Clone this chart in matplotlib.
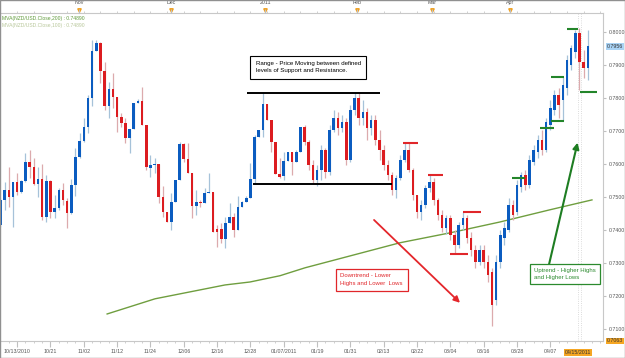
import numpy as np
import matplotlib.pyplot as plt
import matplotlib.transforms as mtrans
from matplotlib.patches import Rectangle

# NZD/USD daily candles
opens = [0.7415, 0.7491, 0.7521, 0.7500, 0.7546, 0.7515, 0.7549, 0.7606, 0.7591, 0.7539,
         0.7555, 0.7439, 0.7549, 0.7455, 0.7467, 0.7521, 0.7488, 0.7452, 0.7536, 0.7621,
         0.7670, 0.7712, 0.7800, 0.7942, 0.7967, 0.7882, 0.7776, 0.7827, 0.7803, 0.7742,
         0.7724, 0.7679, 0.7706, 0.7785, 0.7791, 0.7718, 0.7588, 0.7597, 0.7600, 0.7500,
         0.7455, 0.7424, 0.7485, 0.7552, 0.7661, 0.7615, 0.7573, 0.7473, 0.7485, 0.7482,
         0.7512, 0.7515, 0.7403, 0.7403, 0.7373, 0.7421, 0.7439, 0.7400, 0.7470, 0.7485,
         0.7497, 0.7555, 0.7682, 0.7703, 0.7782, 0.7733, 0.7667, 0.7570, 0.7564, 0.7609,
         0.7636, 0.7606, 0.7636, 0.7712, 0.7667, 0.7597, 0.7552, 0.7582, 0.7642, 0.7576,
         0.7703, 0.7739, 0.7709, 0.7727, 0.7612, 0.7764, 0.7800, 0.7739, 0.7758, 0.7709,
         0.7733, 0.7673, 0.7642, 0.7597, 0.7567, 0.7521, 0.7558, 0.7612, 0.7642, 0.7582,
         0.7506, 0.7455, 0.7476, 0.7527, 0.7546, 0.7491, 0.7446, 0.7406, 0.7436, 0.7385,
         0.7355, 0.7415, 0.7436, 0.7376, 0.7339, 0.7303, 0.7339, 0.7303, 0.7273, 0.7188,
         0.7303, 0.7376, 0.7400, 0.7476, 0.7455, 0.7530, 0.7567, 0.7536, 0.7606, 0.7636,
         0.7673, 0.7642, 0.7718, 0.7764, 0.7809, 0.7794, 0.7830, 0.7900, 0.7939, 0.7997,
         0.7909, 0.7891]
highs = [0.7497, 0.7546, 0.7591, 0.7546, 0.7573, 0.7552, 0.7633, 0.7642, 0.7618, 0.7591,
         0.7600, 0.7567, 0.7552, 0.7506, 0.7527, 0.7542, 0.7497, 0.7555, 0.7649, 0.7694,
         0.7739, 0.7809, 0.7976, 0.7976, 0.7970, 0.7909, 0.7849, 0.7876, 0.7803, 0.7755,
         0.7739, 0.7706, 0.7785, 0.7797, 0.7833, 0.7718, 0.7627, 0.7618, 0.7600, 0.7533,
         0.7455, 0.7512, 0.7552, 0.7667, 0.7664, 0.7664, 0.7573, 0.7521, 0.7491, 0.7527,
         0.7573, 0.7515, 0.7415, 0.7421, 0.7439, 0.7482, 0.7452, 0.7503, 0.7488, 0.7503,
         0.7603, 0.7688, 0.7703, 0.7815, 0.7782, 0.7733, 0.7667, 0.7618, 0.7636, 0.7636,
         0.7636, 0.7642, 0.7712, 0.7718, 0.7673, 0.7612, 0.7597, 0.7658, 0.7649, 0.7718,
         0.7764, 0.7758, 0.7749, 0.7739, 0.7779, 0.7815, 0.7815, 0.7794, 0.7770, 0.7749,
         0.7749, 0.7703, 0.7658, 0.7612, 0.7576, 0.7567, 0.7627, 0.7664, 0.7664, 0.7588,
         0.7506, 0.7491, 0.7536, 0.7567, 0.7558, 0.7497, 0.7461, 0.7446, 0.7446, 0.7400,
         0.7424, 0.7455, 0.7446, 0.7394, 0.7355, 0.7355, 0.7355, 0.7324, 0.7285, 0.7324,
         0.7400, 0.7424, 0.7497, 0.7491, 0.7552, 0.7576, 0.7582, 0.7627, 0.7658, 0.7688,
         0.7703, 0.7739, 0.7794, 0.7824, 0.7830, 0.7864, 0.7930, 0.7961, 0.8006, 0.8012,
         0.7946, 0.8006]
lows = [0.7409, 0.7461, 0.7470, 0.7409, 0.7506, 0.7512, 0.7546, 0.7558, 0.7536, 0.7500,
        0.7430, 0.7424, 0.7436, 0.7436, 0.7461, 0.7476, 0.7406, 0.7449, 0.7503, 0.7618,
        0.7667, 0.7694, 0.7776, 0.7942, 0.7846, 0.7764, 0.7739, 0.7770, 0.7697, 0.7712,
        0.7664, 0.7633, 0.7706, 0.7785, 0.7718, 0.7582, 0.7561, 0.7573, 0.7482, 0.7439,
        0.7424, 0.7400, 0.7485, 0.7552, 0.7606, 0.7573, 0.7436, 0.7446, 0.7470, 0.7482,
        0.7512, 0.7394, 0.7349, 0.7361, 0.7346, 0.7421, 0.7379, 0.7400, 0.7470, 0.7485,
        0.7497, 0.7542, 0.7682, 0.7682, 0.7733, 0.7636, 0.7570, 0.7558, 0.7552, 0.7609,
        0.7567, 0.7606, 0.7636, 0.7658, 0.7582, 0.7542, 0.7533, 0.7552, 0.7558, 0.7567,
        0.7697, 0.7688, 0.7697, 0.7597, 0.7606, 0.7749, 0.7718, 0.7718, 0.7673, 0.7688,
        0.7658, 0.7612, 0.7582, 0.7552, 0.7506, 0.7497, 0.7552, 0.7606, 0.7576, 0.7491,
        0.7436, 0.7430, 0.7467, 0.7515, 0.7476, 0.7430, 0.7394, 0.7388, 0.7370, 0.7327,
        0.7346, 0.7400, 0.7361, 0.7321, 0.7285, 0.7294, 0.7285, 0.7243, 0.7109, 0.7173,
        0.7285, 0.7355, 0.7394, 0.7430, 0.7446, 0.7515, 0.7521, 0.7527, 0.7597, 0.7618,
        0.7627, 0.7636, 0.7703, 0.7749, 0.7739, 0.7730, 0.7809, 0.7885, 0.7921, 0.7824,
        0.7861, 0.7855]
closes = [0.7491, 0.7521, 0.7500, 0.7546, 0.7515, 0.7549, 0.7606, 0.7591, 0.7539, 0.7555,
          0.7439, 0.7549, 0.7455, 0.7467, 0.7521, 0.7491, 0.7452, 0.7536, 0.7621, 0.7670,
          0.7712, 0.7800, 0.7942, 0.7967, 0.7882, 0.7776, 0.7827, 0.7803, 0.7742, 0.7724,
          0.7679, 0.7706, 0.7785, 0.7791, 0.7718, 0.7591, 0.7597, 0.7600, 0.7500, 0.7455,
          0.7424, 0.7485, 0.7552, 0.7661, 0.7615, 0.7573, 0.7473, 0.7485, 0.7482, 0.7512,
          0.7515, 0.7394, 0.7394, 0.7373, 0.7421, 0.7439, 0.7400, 0.7470, 0.7485, 0.7497,
          0.7555, 0.7682, 0.7703, 0.7782, 0.7733, 0.7667, 0.7570, 0.7561, 0.7609, 0.7636,
          0.7606, 0.7636, 0.7712, 0.7667, 0.7597, 0.7552, 0.7582, 0.7642, 0.7576, 0.7703,
          0.7739, 0.7709, 0.7727, 0.7612, 0.7764, 0.7800, 0.7739, 0.7758, 0.7709, 0.7733,
          0.7673, 0.7642, 0.7597, 0.7567, 0.7521, 0.7558, 0.7612, 0.7642, 0.7582, 0.7506,
          0.7455, 0.7476, 0.7527, 0.7546, 0.7491, 0.7446, 0.7406, 0.7436, 0.7385, 0.7355,
          0.7415, 0.7436, 0.7376, 0.7339, 0.7303, 0.7339, 0.7303, 0.7264, 0.7173, 0.7303,
          0.7385, 0.7406, 0.7476, 0.7446, 0.7536, 0.7567, 0.7536, 0.7612, 0.7642, 0.7673,
          0.7642, 0.7727, 0.7770, 0.7809, 0.7779, 0.7839, 0.7915, 0.7952, 0.7997, 0.7909,
          0.7891, 0.7958]

# moving average (sampled along the green line)
ma_idx = [25.6, 31.1, 37.1, 47.9, 53.9, 59.9, 67.1, 73.1, 83.9, 95.9, 107.9, 119.9, 131.9, 142]
ma_vals = [0.7145, 0.7167, 0.7191, 0.7218, 0.7233, 0.7242, 0.7261, 0.7285, 0.7321, 0.7361,
           0.7391, 0.7424, 0.7461, 0.7491]

date_ticks = list(range(4, 133, 8))
date_labels = ['10/13/2010', '10/21', '11/02', '11/12', '11/24', '12/06', '12/16', '12/28',
               '01/07/2011', '01/19', '01/31', '02/13', '02/22', '03/04', '03/16', '03/28', '04/07']
month_pos = [18.85, 40.9, 63.5, 85.6, 103.6, 122.3]
month_labels = ['Nov', 'Dec', '2011', 'Feb', 'Mar', 'Apr']
price_ticks = [0.71, 0.72, 0.73, 0.74, 0.75, 0.76, 0.77, 0.78, 0.79, 0.80]

# lower highs / lower lows and higher highs / higher lows markers
red_dash = [(96.6, 100.2, 0.7664), (102.6, 106.2, 0.7567), (111.0, 115.4, 0.7455), (108.0, 112.2, 0.7327)]
green_dash = [(136.0, 138.7, 0.8009), (139.1, 143.2, 0.7818), (132.2, 135.3, 0.7864),
              (132.2, 135.3, 0.7730), (122.8, 125.9, 0.7558), (129.5, 132.9, 0.7709)]

BLUE = '#0b5cc0'
RED = '#dc1c20'
BLUE_WICK = '#a6c2d9'
RED_WICK = '#dcaaad'

plt.rcParams['font.family'] = ['Liberation Sans', 'DejaVu Sans']

fig = plt.figure(figsize=(6.25, 3.58), dpi=100)
ax = fig.add_axes([0.0, 0.0475, 0.9648, 0.9162])

n = len(opens)
x = np.arange(n)
o = np.array(opens)
c = np.array(closes)
up = c >= o

# wicks then bodies
ax.vlines(x[up], np.array(lows)[up], np.array(highs)[up], color=BLUE_WICK, lw=0.9, zorder=2)
ax.vlines(x[~up], np.array(lows)[~up], np.array(highs)[~up], color=RED_WICK, lw=0.9, zorder=2)
body_h = np.maximum(np.abs(c - o), 0.00035)
ax.bar(x[up], body_h[up], bottom=np.minimum(o, c)[up], width=0.62, color=BLUE, zorder=3)
ax.bar(x[~up], body_h[~up], bottom=np.minimum(o, c)[~up], width=0.62, color=RED, zorder=3)

# moving average
ax.plot(ma_idx, ma_vals, color='#6f9e3f', lw=1.0, zorder=1)

# cursor lines
ax.axvline(138.6, color='#d0d0d0', lw=0.6, ls=':', zorder=0)
ax.axvline(139.4, color='#d0d0d0', lw=0.6, ls=':', zorder=0)

ax.set_xlim(-0.12, 144.65)
ax.set_ylim(0.7063, 0.8058)

# support / resistance
ax.hlines(0.7815, 59.2, 91.1, color='black', lw=1.4, zorder=4)
ax.hlines(0.7539, 60.6, 94.0, color='black', lw=1.4, zorder=4)
ax.text(61.3, 0.7912, 'Range - Price Moving between defined\nlevels of Support and Resistance.',
        fontsize=4.4, va='top', ha='left', linespacing=1.5,
        bbox=dict(boxstyle='square,pad=0.9', fc='white', ec='black', lw=0.8), zorder=5)

for x0, x1, y in red_dash:
    ax.hlines(y, x0, x1, color='#e0262a', lw=1.5, zorder=4)
for x0, x1, y in green_dash:
    ax.hlines(y, x0, x1, color='#23852a', lw=1.5, zorder=4)

ax.annotate('', xy=(110.8, 0.7173), xytext=(89.2, 0.7436),
            arrowprops=dict(arrowstyle='-|>', color='#e4262b', lw=1.3, mutation_scale=9))
ax.annotate('', xy=(138.7, 0.7673), xytext=(131.5, 0.7285),
            arrowprops=dict(arrowstyle='-|>', color='#1e7d22', lw=1.5, mutation_scale=9))

ax.text(81.6, 0.7268, 'Downtrend - Lower\nHighs and Lower  Lows', color='#e0262a',
        fontsize=4.3, va='top', ha='left', linespacing=1.6,
        bbox=dict(boxstyle='square,pad=0.8', fc='white', ec='#e0262a', lw=0.9), zorder=5)
ax.text(128.2, 0.7285, 'Uptrend - Higher Highs\nand Higher Lows', color='#2b8a2e',
        fontsize=4.3, va='top', ha='left', linespacing=1.6,
        bbox=dict(boxstyle='square,pad=0.7', fc='white', ec='#2b8a2e', lw=0.9), zorder=5)

# legend text
ax.text(0.003, 0.99, 'MVA(NZD/USD.Close,200) : 0.74890', transform=ax.transAxes,
        fontsize=3.6, color='#5f9a3a', va='top')
ax.text(0.003, 0.97, 'MVA(NZD/USD.Close,100) : 0.74890', transform=ax.transAxes,
        fontsize=3.6, color='#b8c79a', va='top')

# axes styling
ax.spines['left'].set_visible(False)
for s in ['right', 'bottom', 'top']:
    ax.spines[s].set_color('#c8c8c8')
    ax.spines[s].set_linewidth(0.8)

ax.yaxis.tick_right()
ax.set_yticks(price_ticks)
ax.set_yticklabels(['%.4f' % p for p in price_ticks])
ax.tick_params(axis='y', labelsize=3.8, colors='#c0c0c0', labelcolor='#555555', length=2, pad=2)
ax.set_xticks(date_ticks)
ax.set_xticklabels(date_labels)
ax.set_xticks(np.arange(0, 145, 2), minor=True)
ax.tick_params(axis='x', which='major', labelsize=3.8, colors='#c0c0c0', labelcolor='#555555',
               length=4, pad=2)
ax.tick_params(axis='x', which='minor', colors='#c8c8c8', length=1.5)

# highlighted labels
ytr = mtrans.blended_transform_factory(ax.transAxes, ax.transData)
ax.text(1.006, 0.7956, '0.7956', transform=ytr, fontsize=3.8, va='center', ha='left',
        color='#333333', bbox=dict(boxstyle='square,pad=0.15', fc='#a9d3f5', ec='none'))
ax.text(1.006, 0.7063, '0.7063', transform=ytr, fontsize=3.8, va='center', ha='left',
        color='#333333', bbox=dict(boxstyle='square,pad=0.15', fc='#f5a623', ec='none'))
tr = mtrans.blended_transform_factory(ax.transData, ax.transAxes)
ax.text(138.7, -0.035, '04/15/2011', transform=tr, fontsize=3.8, va='center', ha='center',
        color='#333333', bbox=dict(boxstyle='square,pad=0.15', fc='#f5a623', ec='none'))

# top month ruler
top = ax.twiny()
top.set_xlim(ax.get_xlim())
top.set_xticks(month_pos)
top.set_xticklabels(month_labels)
top.set_xticks(np.arange(0, 145, 4), minor=True)
top.tick_params(axis='x', which='major', labelsize=3.8, colors='#c0c0c0', labelcolor='#555555',
                length=3, pad=3)
top.tick_params(axis='x', which='minor', colors='#c8c8c8', length=1.5)
for s in top.spines.values():
    s.set_visible(False)
ax.plot(month_pos, [1.01] * len(month_pos), 'v', color='#f0a020', ms=2.5, transform=tr, clip_on=False)

fig.patches.append(Rectangle((0, 0), 1, 1, transform=fig.transFigure, fill=False,
                             ec='#909090', lw=1.0))

fig.savefig('out.png', dpi=100)
